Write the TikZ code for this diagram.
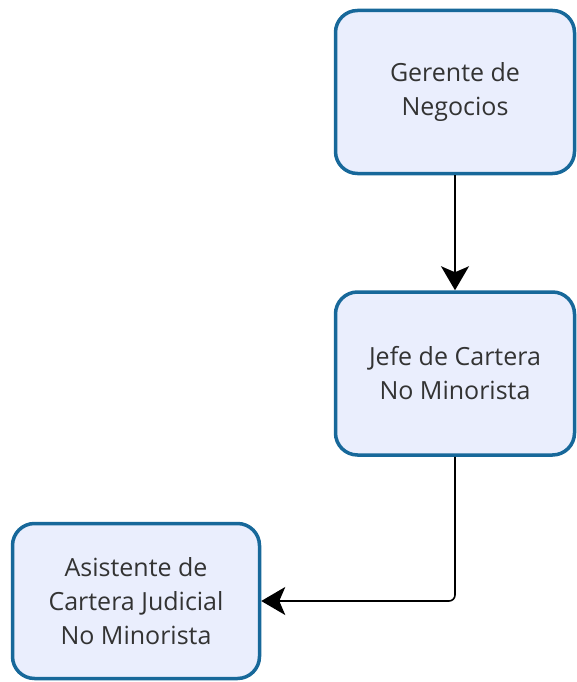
\documentclass[tikz,border=0pt]{standalone}
\usepackage{fontspec}
\setmainfont{Open Sans}
\usetikzlibrary{positioning,arrows.meta}
\definecolor{boxline}{HTML}{17689A}
\definecolor{boxfill}{HTML}{EAEEFD}

\begin{document}
\begin{tikzpicture}[x=1pt,y=1pt,>={Stealth[length=24pt,width=28pt,inset=6pt]},node distance=115pt,
  cargo/.style={draw=boxline,fill=boxfill,line width=3.5pt,rounded corners=22pt,align=center,
    font=\fontsize{25}{34}\selectfont,text=black!80,minimum width=239pt,minimum height=163pt,inner sep=0pt}]
\useasboundingbox (0,0) rectangle (577,-682);
\node[cargo] (gerente) at (455,-92) {Gerente de\\Negocios};
\node[cargo] (jefe) [below=of gerente] {Jefe de Cartera\\No Minorista};
\node[cargo,minimum width=247pt,minimum height=155pt] (asistente) at (136,-601) {Asistente de\\Cartera Judicial\\No Minorista};
\draw[->,line width=1.6pt] (gerente) -- (jefe);
\draw[->,line width=1.6pt,rounded corners=6pt] (jefe.south) |- (asistente.east);
\end{tikzpicture}
\end{document}
